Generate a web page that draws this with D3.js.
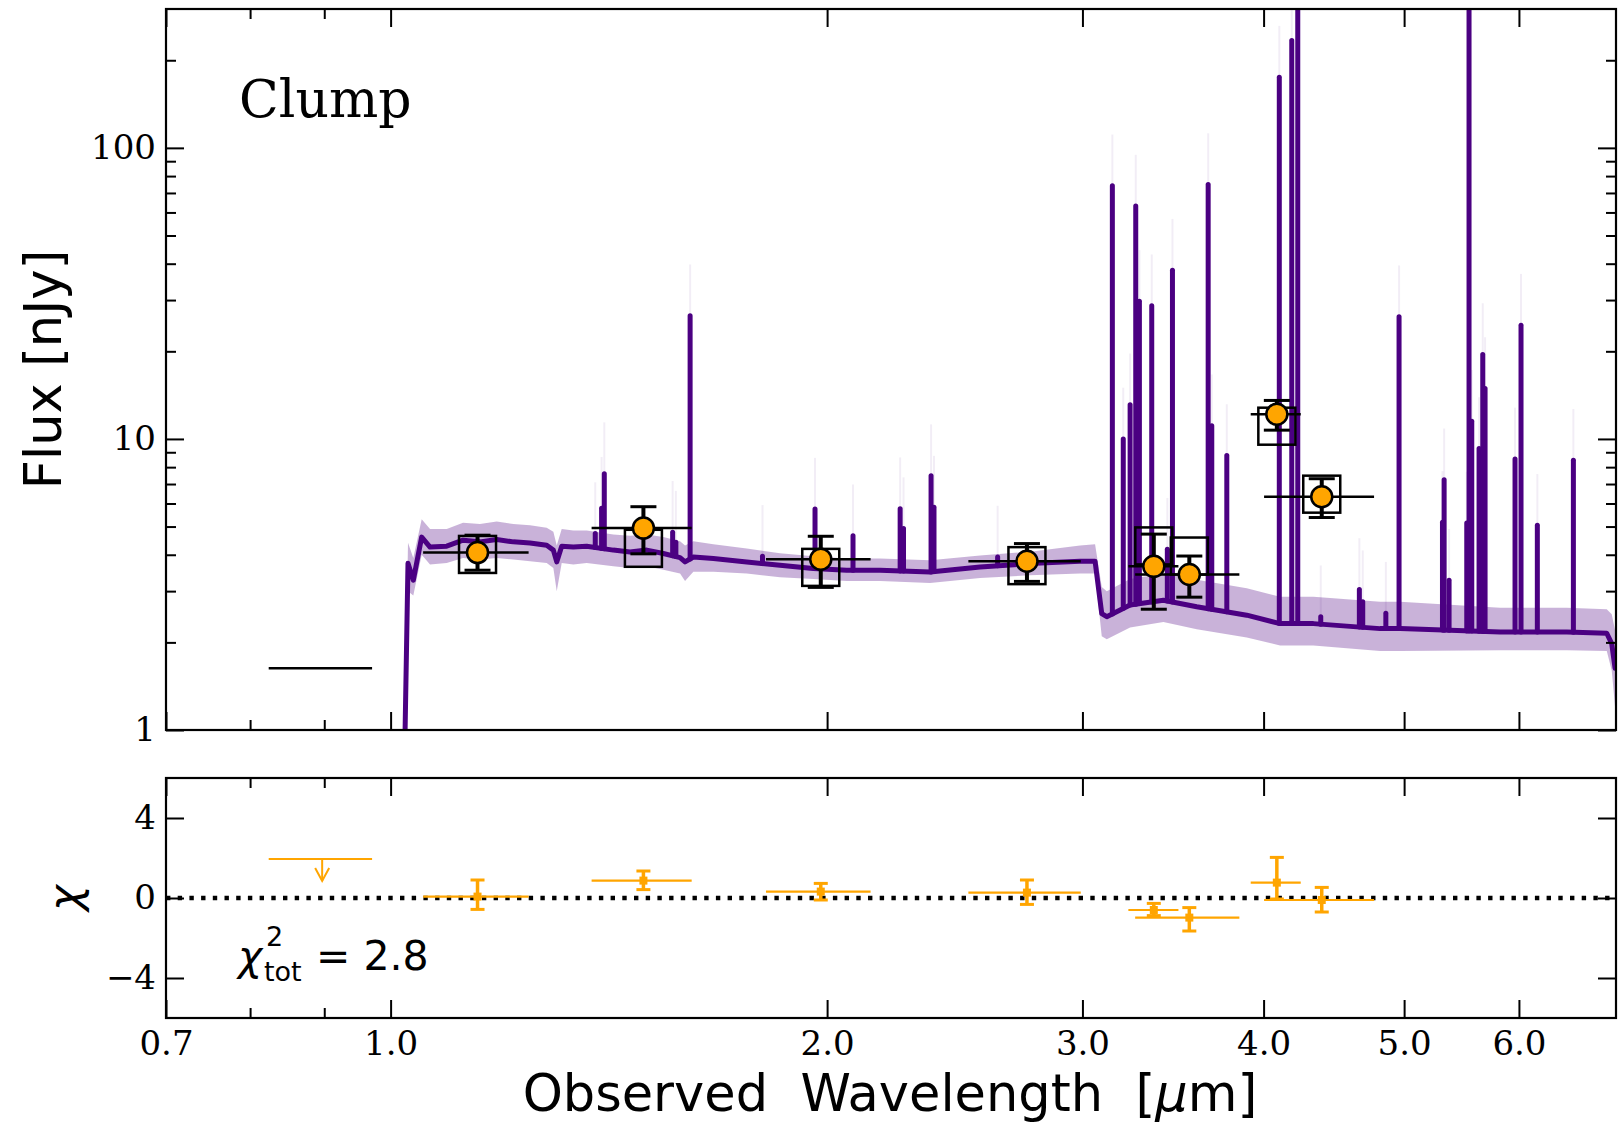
<!DOCTYPE html>
<html>
<head>
<meta charset="utf-8">
<script src="https://cdn.jsdelivr.net/npm/d3@7"></script>
<style>
  body { margin: 0; background: #fff; }
  text { fill: #000; }
</style>
</head>
<body>
<div id="chart"></div>
<script>
// model spectrum continuum (um, nJy) and its shaded range
const contWave = [1.020, 1.028, 1.0367, 1.0506, 1.0646, 1.0932, 1.1219, 1.1525, 1.1835, 1.2151, 1.2478, 1.2813, 1.2949, 1.3019, 1.3122, 1.3366, 1.3653, 1.4242, 1.4626, 1.5019, 1.5421, 1.5835, 1.5961, 1.6173, 1.6695, 1.7604, 1.856, 1.9566, 2.0633, 2.1754, 2.3552, 2.5498, 2.7605, 2.9887, 3.0608, 3.0934, 3.1182, 3.2358, 3.4115, 3.5972, 3.8945, 4.1061, 4.3292, 4.8129, 4.9685, 5.823, 6.4736, 6.898, 6.9527, 6.9896];
const contFlux = [0.4, 3.74, 3.27, 4.60, 4.25, 4.28, 4.49, 4.43, 4.51, 4.43, 4.39, 4.31, 4.15, 3.78, 4.28, 4.25, 4.28, 4.15, 4.09, 4.15, 4.04, 3.91, 3.78, 3.93, 3.88, 3.78, 3.68, 3.59, 3.54, 3.54, 3.49, 3.63, 3.73, 3.80, 3.80, 2.51, 2.45, 2.69, 2.79, 2.65, 2.48, 2.32, 2.32, 2.23, 2.23, 2.17, 2.17, 2.15, 1.98, 1.63];
const bandLo = [0.35, 3.0, 2.9, 4.0, 3.7, 3.75, 3.9, 3.85, 3.9, 3.85, 3.8, 3.75, 3.6, 3.0, 3.75, 3.7, 3.75, 3.65, 3.6, 3.65, 3.55, 3.45, 3.25, 3.5, 3.5, 3.45, 3.35, 3.3, 3.25, 3.25, 3.2, 3.33, 3.4, 3.45, 3.45, 2.1, 2.05, 2.25, 2.35, 2.22, 2.08, 1.95, 1.95, 1.87, 1.87, 1.88, 1.88, 1.87, 1.6, 1.2];
const bandHi = [0.45, 4.4, 3.9, 5.3, 4.9, 4.9, 5.15, 5.1, 5.2, 5.1, 5.05, 4.95, 4.8, 4.3, 4.9, 4.85, 4.85, 4.7, 4.65, 4.7, 4.6, 4.45, 4.3, 4.45, 4.35, 4.2, 4.05, 3.95, 3.88, 3.88, 3.83, 3.98, 4.1, 4.3, 4.35, 3.1, 3.0, 3.3, 3.45, 3.28, 3.07, 2.87, 2.87, 2.76, 2.76, 2.63, 2.63, 2.6, 2.5, 2.2];

// emission lines: wavelength and peak flux
const lineWave = [1.384, 1.398, 1.404, 1.565, 1.573, 1.609, 1.805, 1.962, 2.084, 2.246, 2.258, 2.359, 2.370, 2.622, 3.146, 3.201, 3.236, 3.265, 3.284, 3.349, 3.433, 3.461, 3.663, 3.684, 3.773, 4.101, 4.183, 4.223, 4.380, 4.657, 4.682, 4.857, 4.960, 5.314, 5.328, 5.370, 5.523, 5.543, 5.567, 5.632, 5.665, 5.686, 5.963, 6.020, 6.178, 6.542];
const linePeak = [4.73, 5.78, 7.60, 4.78, 4.42, 26.5, 3.95, 5.74, 4.65, 5.76, 4.92, 7.48, 5.83, 3.93, 74.1, 10.0, 13.1, 63.1, 29.7, 28.7, 4.18, 38.0, 74.8, 11.1, 8.77, 175, 234, 2000, 2.45, 3.04, 2.76, 2.52, 26.3, 5.17, 7.24, 3.27, 5.14, 2000, 11.5, 9.27, 19.5, 14.9, 8.54, 24.6, 5.05, 8.45];

// photometry
const filterWave = [1.148, 1.494, 1.980, 2.747, 3.360, 3.555, 4.085, 4.387];
const waveLo = [1.053, 1.376, 1.815, 2.503, 3.227, 3.262, 3.919, 4.003];
const waveHi = [1.245, 1.613, 2.143, 2.992, 3.494, 3.849, 4.243, 4.767];
const obsFlux = [4.07, 4.94, 3.86, 3.80, 3.65, 3.42, 12.16, 6.33];
const obsLo = [3.54, 4.03, 3.09, 3.24, 2.60, 2.86, 10.72, 5.37];
const obsHi = [4.67, 5.85, 4.63, 4.37, 4.71, 3.96, 13.56, 7.30];
const modelFlux = [4.01, 4.21, 3.62, 3.67, 4.29, 3.96, 11.06, 6.46];

// residuals
const chi = [0.07, 0.87, 0.32, 0.27, -0.60, -0.98, 0.77, -0.10];
const chiLo = [-0.57, 0.42, -0.10, -0.32, -0.88, -1.65, -0.05, -0.70];
const chiHi = [0.90, 1.35, 0.73, 0.90, -0.27, -0.48, 2.03, 0.53];

// upper limit band
const ulWave = 0.897, ulLo = 0.824, ulHi = 0.971, ulFlux = 1.63, ulChi = 1.95, ulArrow = 0.85;

// ticks
const xMajor = [0.7, 1, 2, 3, 4, 5, 6];
const xMinor = [0.8, 0.9];
const yMajor = [1, 10, 100];
const yMinor = [2, 3, 4, 5, 6, 7, 8, 9, 20, 30, 40, 50, 60, 70, 80, 90, 200];
const chiTicks = [-4, 0, 4];

const width = 1623, height = 1122;
const left = 166, right = 1616;
const top1 = 9, bot1 = 730, top2 = 778, bot2 = 1018;
const purple = "#4B0082", orange = "#FFA500";
const serif = "DejaVu Serif", sans = "DejaVu Sans";

const x = d3.scaleLog().domain([0.7, 7.0]).range([left, right]);
const y = d3.scaleLog().domain([1, 300]).range([bot1, top1]);
const yc = d3.scaleLinear().domain([-6, 6]).range([bot2, top2]);

const svg = d3.select("#chart").append("svg")
  .attr("width", width).attr("height", height)
  .style("display", "block");

svg.append("defs").append("clipPath").attr("id", "clipTop")
  .append("rect").attr("x", left).attr("y", top1)
  .attr("width", right - left).attr("height", bot1 - top1);

// interpolate continuum in log-log space, used for the base of each line
function contAt(w) {
  let i = d3.bisectLeft(contWave, w);
  i = Math.max(1, Math.min(contWave.length - 1, i));
  const w0 = contWave[i - 1], w1 = contWave[i];
  const t = (Math.log(w) - Math.log(w0)) / (Math.log(w1) - Math.log(w0));
  return Math.exp(Math.log(contFlux[i - 1]) + t * (Math.log(contFlux[i]) - Math.log(contFlux[i - 1])));
}

const plot = svg.append("g").attr("clip-path", "url(#clipTop)");

// shaded band
const band = d3.area()
  .x((d, i) => x(contWave[i]))
  .y0((d, i) => y(bandLo[i]))
  .y1((d, i) => y(bandHi[i]));
plot.append("path").datum(contWave).attr("d", band)
  .attr("fill", purple).attr("fill-opacity", 0.3);

// faint range above line peaks
plot.selectAll(".lineRange").data(lineWave).join("line")
  .attr("x1", d => x(d)).attr("x2", d => x(d))
  .attr("y1", (d, i) => y(linePeak[i]))
  .attr("y2", (d, i) => y(linePeak[i] * 1.5))
  .attr("stroke", purple).attr("stroke-opacity", 0.07).attr("stroke-width", 2);

// continuum
const line = d3.line().x((d, i) => x(contWave[i])).y((d, i) => y(contFlux[i]));
plot.append("path").datum(contWave).attr("d", line)
  .attr("fill", "none").attr("stroke", purple).attr("stroke-width", 5)
  .attr("stroke-linejoin", "round").attr("stroke-linecap", "round");

// emission lines
plot.selectAll(".eline").data(lineWave).join("line")
  .attr("x1", d => x(d)).attr("x2", d => x(d))
  .attr("y1", d => y(contAt(d)))
  .attr("y2", (d, i) => y(linePeak[i]))
  .attr("stroke", purple).attr("stroke-width", 5).attr("stroke-linecap", "round");

// upper limit in flux panel
svg.append("line")
  .attr("x1", x(ulLo)).attr("x2", x(ulHi))
  .attr("y1", y(ulFlux)).attr("y2", y(ulFlux))
  .attr("stroke", "#000").attr("stroke-width", 2.5);

// model photometry boxes
const box = 37;
svg.selectAll(".mbox").data(filterWave).join("rect")
  .attr("x", d => x(d) - box / 2)
  .attr("y", (d, i) => y(modelFlux[i]) - box / 2)
  .attr("width", box).attr("height", box)
  .attr("fill", "none").attr("stroke", "#000").attr("stroke-width", 2.5);

// observed photometry error bars
svg.selectAll(".xerr").data(filterWave).join("line")
  .attr("x1", (d, i) => x(waveLo[i])).attr("x2", (d, i) => x(waveHi[i]))
  .attr("y1", (d, i) => y(obsFlux[i])).attr("y2", (d, i) => y(obsFlux[i]))
  .attr("stroke", "#000").attr("stroke-width", 2.5);
svg.selectAll(".yerr").data(filterWave).join("line")
  .attr("x1", d => x(d)).attr("x2", d => x(d))
  .attr("y1", (d, i) => y(obsLo[i])).attr("y2", (d, i) => y(obsHi[i]))
  .attr("stroke", "#000").attr("stroke-width", 4);
const caps = filterWave.flatMap((d, i) => [[d, obsLo[i]], [d, obsHi[i]]]);
svg.selectAll(".cap").data(caps).join("line")
  .attr("x1", d => x(d[0]) - 13).attr("x2", d => x(d[0]) + 13)
  .attr("y1", d => y(d[1])).attr("y2", d => y(d[1]))
  .attr("stroke", "#000").attr("stroke-width", 3);
svg.selectAll(".pt").data(filterWave).join("circle")
  .attr("cx", d => x(d)).attr("cy", (d, i) => y(obsFlux[i])).attr("r", 10.5)
  .attr("fill", orange).attr("stroke", "#000").attr("stroke-width", 2.5);

// ---- residual panel ----
svg.append("line")
  .attr("x1", left).attr("x2", right).attr("y1", yc(0)).attr("y2", yc(0))
  .attr("stroke", "#000").attr("stroke-width", 4.4).attr("stroke-dasharray", "4.4,7.3");

svg.selectAll(".cxerr").data(filterWave).join("line")
  .attr("x1", (d, i) => x(waveLo[i])).attr("x2", (d, i) => x(waveHi[i]))
  .attr("y1", (d, i) => yc(chi[i])).attr("y2", (d, i) => yc(chi[i]))
  .attr("stroke", orange).attr("stroke-width", 2.2);
svg.selectAll(".cyerr").data(filterWave).join("line")
  .attr("x1", d => x(d)).attr("x2", d => x(d))
  .attr("y1", (d, i) => yc(chiLo[i])).attr("y2", (d, i) => yc(chiHi[i]))
  .attr("stroke", orange).attr("stroke-width", 3.5);
const ccaps = filterWave.flatMap((d, i) => [[d, chiLo[i]], [d, chiHi[i]]]);
svg.selectAll(".ccap").data(ccaps).join("line")
  .attr("x1", d => x(d[0]) - 7).attr("x2", d => x(d[0]) + 7)
  .attr("y1", d => yc(d[1])).attr("y2", d => yc(d[1]))
  .attr("stroke", orange).attr("stroke-width", 3);
svg.selectAll(".cpt").data(filterWave).join("rect")
  .attr("x", d => x(d) - 4).attr("y", (d, i) => yc(chi[i]) - 4)
  .attr("width", 8).attr("height", 8).attr("fill", orange);

// upper limit residual with arrow
svg.append("line")
  .attr("x1", x(ulLo)).attr("x2", x(ulHi)).attr("y1", yc(ulChi)).attr("y2", yc(ulChi))
  .attr("stroke", orange).attr("stroke-width", 2.2);
svg.append("line")
  .attr("x1", x(ulWave)).attr("x2", x(ulWave)).attr("y1", yc(ulChi)).attr("y2", yc(ulArrow))
  .attr("stroke", orange).attr("stroke-width", 2);
svg.append("path")
  .attr("d", `M${x(ulWave) - 7},${yc(ulArrow) - 13}L${x(ulWave)},${yc(ulArrow)}L${x(ulWave) + 7},${yc(ulArrow) - 13}`)
  .attr("fill", "none").attr("stroke", orange).attr("stroke-width", 2);

// ---- axes ----
function styleAxis(g) {
  g.select(".domain").remove();
  g.selectAll(".tick line").attr("stroke", "#000").attr("stroke-width", 2);
  g.selectAll("text").attr("font-family", serif).attr("font-size", 34).attr("fill", "#000");
}
const noLabel = () => "";

function xTicks(yTop, yBot, labels) {
  svg.append("g").attr("transform", `translate(0,${yTop})`)
    .call(d3.axisTop(x).tickValues(xMajor).tickSize(-18).tickFormat(noLabel)).call(styleAxis);
  svg.append("g").attr("transform", `translate(0,${yTop})`)
    .call(d3.axisTop(x).tickValues(xMinor).tickSize(-10).tickFormat(noLabel)).call(styleAxis);
  svg.append("g").attr("transform", `translate(0,${yBot})`)
    .call(d3.axisBottom(x).tickValues(xMajor).tickSize(-18).tickPadding(13)
      .tickFormat(labels ? d3.format(".1f") : noLabel)).call(styleAxis);
  svg.append("g").attr("transform", `translate(0,${yBot})`)
    .call(d3.axisBottom(x).tickValues(xMinor).tickSize(-10).tickFormat(noLabel)).call(styleAxis);
}
xTicks(top1, bot1, false);
xTicks(top2, bot2, true);

// flux axis
svg.append("g").attr("transform", `translate(${left},0)`)
  .call(d3.axisLeft(y).tickValues(yMajor).tickSize(-18).tickPadding(10).tickFormat(d => String(d)))
  .call(styleAxis);
svg.append("g").attr("transform", `translate(${left},0)`)
  .call(d3.axisLeft(y).tickValues(yMinor).tickSize(-10).tickFormat(noLabel)).call(styleAxis);
svg.append("g").attr("transform", `translate(${right},0)`)
  .call(d3.axisRight(y).tickValues(yMajor).tickSize(-18).tickFormat(noLabel)).call(styleAxis);
svg.append("g").attr("transform", `translate(${right},0)`)
  .call(d3.axisRight(y).tickValues(yMinor).tickSize(-10).tickFormat(noLabel)).call(styleAxis);

// chi axis
svg.append("g").attr("transform", `translate(${left},0)`)
  .call(d3.axisLeft(yc).tickValues(chiTicks).tickSize(-18).tickPadding(10)
    .tickFormat(d => d < 0 ? "\u2212" + Math.abs(d) : String(d)))
  .call(styleAxis);
svg.append("g").attr("transform", `translate(${right},0)`)
  .call(d3.axisRight(yc).tickValues(chiTicks).tickSize(-18).tickFormat(noLabel)).call(styleAxis);

// frames
svg.append("rect").attr("x", left).attr("y", top1).attr("width", right - left).attr("height", bot1 - top1)
  .attr("fill", "none").attr("stroke", "#000").attr("stroke-width", 2.2);
svg.append("rect").attr("x", left).attr("y", top2).attr("width", right - left).attr("height", bot2 - top2)
  .attr("fill", "none").attr("stroke", "#000").attr("stroke-width", 2.2);

// labels
svg.append("text").text("Clump")
  .attr("x", 239).attr("y", 117)
  .attr("font-family", serif).attr("font-size", 52);

svg.append("text")
  .attr("transform", `translate(61,${(top1 + bot1) / 2}) rotate(-90)`)
  .attr("text-anchor", "middle")
  .attr("font-family", sans).attr("font-size", 51)
  .text("Flux [nJy]");

svg.append("text")
  .attr("transform", `translate(80,${yc(0)}) rotate(-90)`)
  .attr("text-anchor", "middle")
  .attr("font-family", sans).attr("font-style", "italic").attr("font-size", 44)
  .text("\u03C7");

const xl = svg.append("text")
  .attr("x", 890).attr("y", 1111)
  .attr("text-anchor", "middle")
  .attr("font-family", sans).attr("font-size", 51);
xl.append("tspan").text("Observed\u00A0\u00A0Wavelength\u00A0\u00A0[");
xl.append("tspan").attr("font-style", "italic").text("\u03BC");
xl.append("tspan").text("m]");

// chi^2 total: symbol, stacked super/subscript, value
svg.append("text").attr("x", 238).attr("y", 970)
  .attr("font-family", sans).attr("font-size", 41).attr("font-style", "italic")
  .text("\u03C7");
svg.append("text").attr("x", 266).attr("y", 946)
  .attr("font-family", sans).attr("font-size", 27).text("2");
svg.append("text").attr("x", 264).attr("y", 981)
  .attr("font-family", sans).attr("font-size", 27).text("tot");
svg.append("text").attr("x", 316).attr("y", 970)
  .attr("font-family", sans).attr("font-size", 41).text("=\u00A02.8");
</script>
</body>
</html>
